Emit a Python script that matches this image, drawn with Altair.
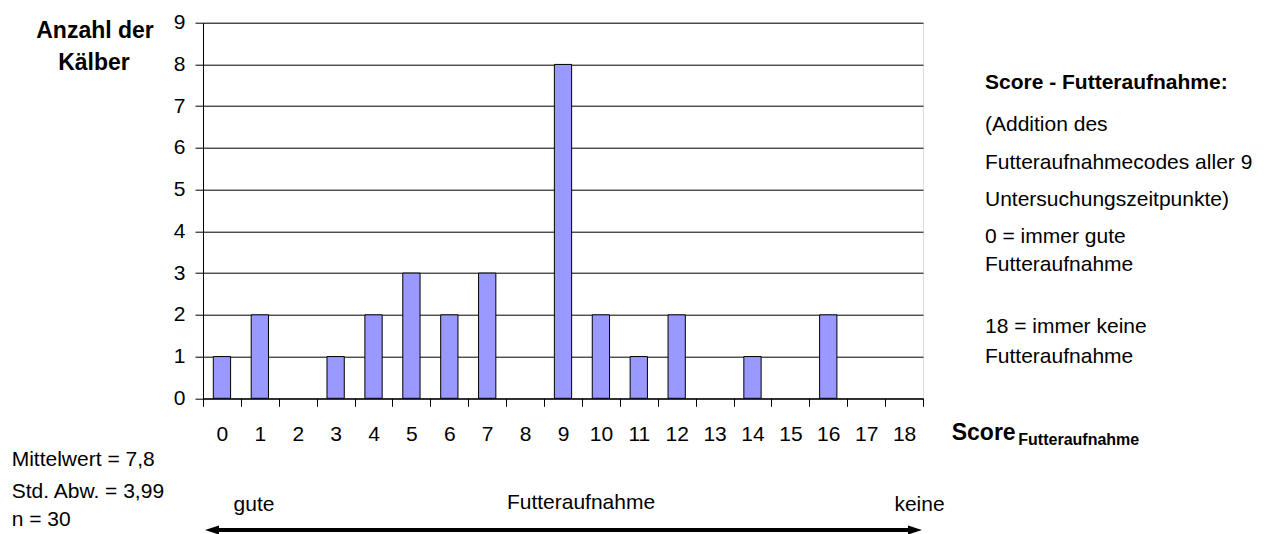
import altair as alt
import pandas as pd

# ---- data ----
scores = list(range(19))
counts = [1, 2, 0, 1, 2, 3, 2, 3, 0, 8, 2, 1, 2, 0, 1, 0, 2, 0, 0]
y_ticks = list(range(10))

y_title_lines = ["Anzahl der", "Kälber"]
legend_title = "Score - Futteraufnahme:"
legend_lines = ["(Addition des", "Futteraufnahmecodes aller 9", "Untersuchungszeitpunkte)",
                "0 = immer gute", "Futteraufnahme", "18 = immer keine", "Futteraufnahme"]
stats_lines = ["Mittelwert = 7,8", "Std. Abw. = 3,99", "n = 30"]
x_title_main = "Score"
x_title_sub = "Futteraufnahme"
arrow_labels = ["gute", "Futteraufnahme", "keine"]

FONT = "Liberation Sans"
W, H = 720, 375.6

df = pd.DataFrame({"score": scores, "count": counts})

bars = alt.Chart(df).mark_bar(
    width=alt.RelativeBandSize(0.456), fill="#9999FF", stroke="black", strokeWidth=1
).encode(
    x=alt.X("score:O", sort=scores,
            scale=alt.Scale(paddingInner=0, paddingOuter=0),
            axis=alt.Axis(title=None, labelAngle=0, tickBand="extent", grid=False,
                          domainColor="black", tickColor="black", tickSize=8,
                          labelPadding=17, labelFontSize=21, labelColor="black",
                          labelFont=FONT)),
    y=alt.Y("count:Q", scale=alt.Scale(domain=[0, 9], nice=False),
            axis=alt.Axis(title=None, values=y_ticks, grid=True, gridColor="black",
                          gridOpacity=1, gridWidth=1,
                          domainColor="black", tickColor="black", tickSize=8,
                          labelPadding=10, labelFontSize=21, labelColor="black",
                          labelFont=FONT)),
    opacity=alt.condition("datum.count > 0", alt.value(1), alt.value(0)),
)


def txt(s, x, y, size=21, bold=False, align="left"):
    return alt.Chart(pd.DataFrame({"t": [s]})).mark_text(
        align=align, baseline="middle", fontSize=size, font=FONT,
        fontWeight="bold" if bold else "normal", color="black"
    ).encode(x=alt.value(x), y=alt.value(y), text="t:N")


layers = [bars]
# y title
layers.append(txt(y_title_lines[0], -108, 8.3, size=23, bold=True, align="center"))
layers.append(txt(y_title_lines[1], -109, 40.3, size=23, bold=True, align="center"))
# legend block
layers.append(txt(legend_title, 782, 60.6, bold=True))
leg_y = [102.3, 140.6, 177.3, 214, 242.3, 304.3, 334.3]
for s, yy in zip(legend_lines, leg_y):
    layers.append(txt(s, 782, yy))
# stats
for s, yy in zip(stats_lines, [437.3, 469.3, 497.3]):
    layers.append(txt(s, -191.3, yy))
# x title with subscript
layers.append(txt(x_title_main, 748.7, 410.6, size=23, bold=True))
layers.append(txt(x_title_sub, 815.3, 417, size=16, bold=True))
# arrow labels
layers.append(txt(arrow_labels[0], 51, 482.3, align="center"))
layers.append(txt(arrow_labels[1], 378, 480.3, align="center"))
layers.append(txt(arrow_labels[2], 716.5, 482.3, align="center"))

# double arrow
one = pd.DataFrame({"k": [0]})
layers.append(alt.Chart(one).mark_rule(color="black", strokeWidth=4).encode(
    x=alt.value(9), x2=alt.value(711), y=alt.value(507.3)))
layers.append(alt.Chart(one).mark_point(
    shape="M-1,0L1,-0.65L1,0.65Z", filled=True, fill="black", stroke="black",
    strokeWidth=0, opacity=1, size=196
).encode(x=alt.value(9), y=alt.value(507.3)))
layers.append(alt.Chart(one).mark_point(
    shape="M1,0L-1,-0.65L-1,0.65Z", filled=True, fill="black", stroke="black",
    strokeWidth=0, opacity=1, size=196
).encode(x=alt.value(712), y=alt.value(507.3)))

chart = alt.layer(*layers).properties(
    width=W, height=H,
    padding={"left": 195, "top": 14.7, "right": 341, "bottom": 135.7},
    autosize=alt.AutoSizeParams(type="none"),
    background="white",
).configure_view(stroke="black", strokeWidth=1).configure(font=FONT)

chart.save("out.html", embed_options={"renderer": "svg", "actions": False})
